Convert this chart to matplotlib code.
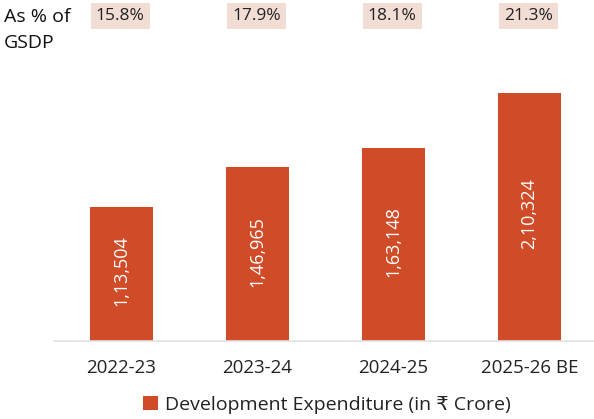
import matplotlib
matplotlib.use("Agg")
import matplotlib.pyplot as plt
from matplotlib.patches import Patch

plt.rcParams['font.family'] = ['Open Sans', 'DejaVu Sans']

years = ["2022-23", "2023-24", "2024-25", "2025-26 BE"]
dev_exp = [113504, 146965, 163148, 210324]
dev_labels = ["1,13,504", "1,46,965", "1,63,148", "2,10,324"]
gsdp_pct = ["15.8%", "17.9%", "18.1%", "21.3%"]

bar_color = "#d04b27"
box_color = "#f2ddd4"

W, H = 594, 419
fig = plt.figure(figsize=(W / 100, H / 100), dpi=100)
ax = fig.add_axes([53.5 / W, (H - 341) / H, (W - 53.5) / W, (341 - 60) / H])

x = list(range(len(years)))
bars = ax.bar(x, dev_exp, width=0.47, color=bar_color, zorder=2)
ax.set_xlim(-0.5, 3.474)
ax.set_ylim(0, 238000)

for xi, v, lab in zip(x, dev_exp, dev_labels):
    ax.text(xi, v / 2 + 2500, lab, rotation=90, ha='center', va='center',
            color='white', fontsize=13, fontweight='normal')

for s in ['top', 'right', 'left']:
    ax.spines[s].set_visible(False)
ax.spines['bottom'].set_color('#e3e3e3')
ax.spines['bottom'].set_linewidth(1.2)
ax.set_yticks([])
ax.set_xticks(x)
ax.set_xticklabels(years, fontsize=13.5, color='#222222')
ax.tick_params(axis='x', length=0, pad=13)

# Percent of GSDP boxes
for xi, p in zip(x, gsdp_pct):
    xf = (53.5 + (xi + 0.5) * 136) / W - 0.002
    fig.text(xf, (H - 16) / H, p, ha='center', va='center', fontsize=12.5,
             color='#222222',
             bbox=dict(boxstyle='square,pad=0.3', facecolor=box_color,
                       edgecolor='none'))

fig.text(4 / W, (H - 17) / H, "As % of", ha='left', va='center',
         fontsize=14, color='#111111', fontweight='medium')
fig.text(4 / W, (H - 43) / H, "GSDP", ha='left', va='center',
         fontsize=14, color='#111111', fontweight='medium')

leg = fig.legend(handles=[Patch(facecolor=bar_color, edgecolor='none',
                                label="Development Expenditure (in ₹ Crore)")],
                 loc='center', bbox_to_anchor=(327 / W, (H - 405) / H),
                 frameon=False, fontsize=14, handlelength=0.75,
                 handleheight=0.75, handletextpad=0.35)
for t in leg.get_texts():
    t.set_color('#222222')

fig.savefig("out.png", dpi=100)
